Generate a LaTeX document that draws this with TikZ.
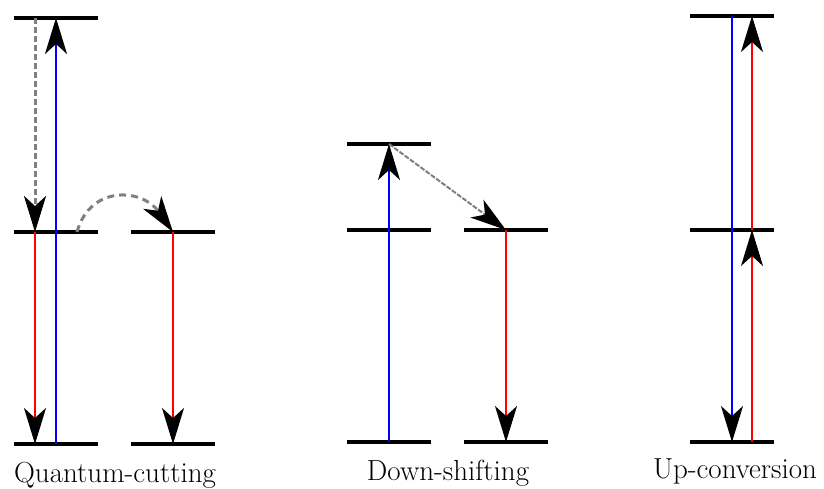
\documentclass[tikz,border=0pt]{standalone}
\usetikzlibrary{arrows.meta}
\begin{document}
\begin{tikzpicture}[x=1pt,y=-1pt,
  level/.style={line width=4pt,black},
  tipA/.style={-{Stealth[color=black,length=36pt,width=22pt,inset=10pt]}},
  bluearr/.style={blue,line width=2pt,tipA},
  redarr/.style={red,line width=2pt,tipA},
  grayarr/.style={gray,line width=3pt,dash pattern=on 6pt off 3pt,tipA},
  lab/.style={font=\fontsize{29}{32}\selectfont,anchor=base}]
\useasboundingbox (0,0) rectangle (824,489);
% panel 1 levels
\draw[level] (14,18) -- (98,18);
\draw[level] (14,232) -- (98,232);
\draw[level] (131,232) -- (215,232);
\draw[level] (14,444) -- (98,444);
\draw[level] (131,444) -- (215,444);
% panel 2 levels
\draw[level] (347,144) -- (431,144);
\draw[level] (347,230) -- (431,230);
\draw[level] (464,230) -- (548,230);
\draw[level] (347,442) -- (431,442);
\draw[level] (464,442) -- (548,442);
% panel 3 levels
\draw[level] (690,16) -- (774,16);
\draw[level] (690,230) -- (774,230);
\draw[level] (690,442) -- (774,442);
% coordinates
\coordinate (q1b) at (56,444); \coordinate (q1t) at (56,18);
\coordinate (q2t) at (35,18); \coordinate (q2m) at (35,232); \coordinate (q2b) at (35,444);
\coordinate (q3s) at (77,232); \coordinate (q3m) at (173,232); \coordinate (q3b) at (173,444);
\coordinate (d1b) at (389,442); \coordinate (d1t) at (389,144);
\coordinate (d2m) at (506,230); \coordinate (d2b) at (506,442);
\coordinate (u1t) at (732,16); \coordinate (u1b) at (732,442);
\coordinate (u2b) at (752,442); \coordinate (u2m) at (752,230); \coordinate (u2t) at (752,16);
% panel 1 arrows
\draw[bluearr] (q1b) -- (q1t);
\draw[grayarr] (q2t) -- (q2m);
\draw[redarr] (q2m) -- (q2b);
\draw[grayarr,dash pattern=on 7pt off 5pt] (q3s) .. controls (90,185) and (142,188) .. (q3m);
\draw[redarr] (q3m) -- (q3b);
% panel 2 arrows
\draw[bluearr] (d1b) -- (d1t);
\draw[grayarr,line width=2pt,dash pattern=on 5pt off 1.5pt] (d1t) -- (d2m);
\draw[redarr] (d2m) -- (d2b);
% panel 3 arrows
\draw[bluearr] (u1t) -- (u1b);
\draw[redarr] (u2b) -- (u2m);
\draw[redarr] (u2m) -- (u2t);
% labels
\node[lab] (l1) at (115,482) {Quantum-cutting};
\node[lab] (l2) at (448,480) {Down-shifting};
\node[lab] (l3) at (735,478) {Up-conversion};
\end{tikzpicture}
\end{document}
